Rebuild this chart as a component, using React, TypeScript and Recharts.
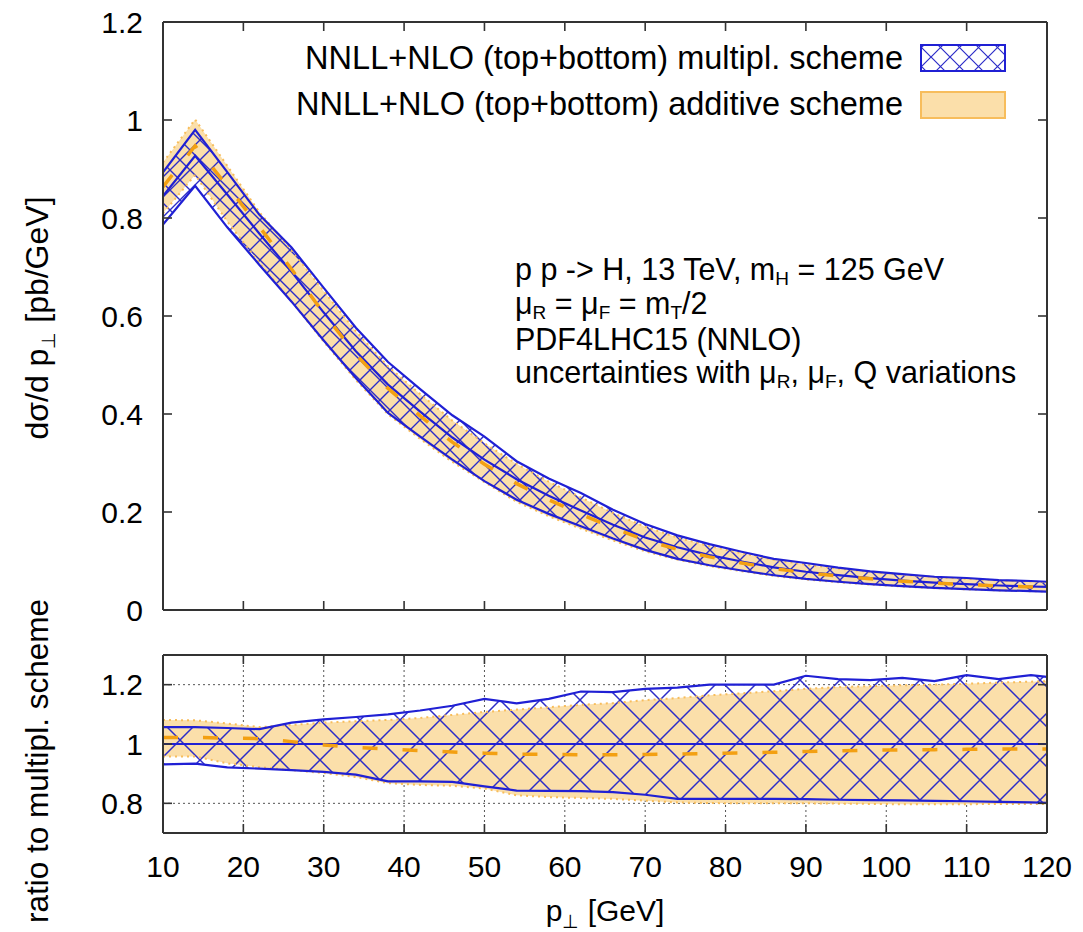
import React from "react";
import { ComposedChart, Area, Line, XAxis, YAxis, CartesianGrid } from "recharts";

// p_T grid points [GeV]
const PT = [10, 14, 18, 22, 26, 30, 34, 38, 42, 46, 50, 54, 58, 62, 66, 70, 74, 78, 82, 86, 90, 94, 98, 102, 106, 110, 114, 118, 120];

// multiplicative scheme, central value [pb/GeV]
const MULT_CENTRAL = [0.845, 0.927, 0.848, 0.768, 0.69, 0.607, 0.528, 0.46, 0.405, 0.352, 0.307, 0.267, 0.233, 0.203, 0.174, 0.148, 0.128, 0.112, 0.099, 0.087, 0.078, 0.071, 0.065, 0.06, 0.056, 0.053, 0.05, 0.048, 0.047];

// band edges as ratio to the multiplicative central value (lower panel)
const MULT_UP = [1.057, 1.057, 1.054, 1.05, 1.072, 1.083, 1.091, 1.1, 1.113, 1.129, 1.152, 1.137, 1.152, 1.177, 1.175, 1.186, 1.19, 1.2, 1.2, 1.2, 1.23, 1.219, 1.215, 1.223, 1.212, 1.232, 1.219, 1.232, 1.226];
const MULT_LO = [0.931, 0.934, 0.921, 0.917, 0.912, 0.906, 0.897, 0.874, 0.874, 0.872, 0.857, 0.843, 0.842, 0.841, 0.838, 0.829, 0.815, 0.815, 0.815, 0.815, 0.814, 0.812, 0.811, 0.81, 0.808, 0.807, 0.805, 0.803, 0.802];
const ADD_CEN = [1.022, 1.022, 1.02, 1.018, 1.008, 0.997, 0.988, 0.983, 0.978, 0.973, 0.969, 0.966, 0.965, 0.964, 0.964, 0.965, 0.966, 0.968, 0.97, 0.972, 0.975, 0.977, 0.979, 0.98, 0.981, 0.982, 0.983, 0.983, 0.983];
const ADD_UP = [1.081, 1.08, 1.069, 1.057, 1.064, 1.072, 1.077, 1.081, 1.088, 1.098, 1.108, 1.116, 1.124, 1.132, 1.138, 1.148, 1.155, 1.164, 1.171, 1.178, 1.186, 1.192, 1.195, 1.198, 1.2, 1.203, 1.207, 1.21, 1.212];
const ADD_LO = [0.958, 0.958, 0.935, 0.922, 0.912, 0.902, 0.889, 0.868, 0.862, 0.859, 0.85, 0.827, 0.821, 0.818, 0.815, 0.809, 0.803, 0.801, 0.8, 0.8, 0.8, 0.799, 0.798, 0.797, 0.797, 0.797, 0.798, 0.798, 0.798];

const X_TICKS = [10, 20, 30, 40, 50, 60, 70, 80, 90, 100, 110, 120];
const TOP_TICKS = [0, 0.2, 0.4, 0.6, 0.8, 1, 1.2];
const RATIO_TICKS = [0.8, 1, 1.2];

const rows = PT.map((pt, i) => {
  const c = MULT_CENTRAL[i];
  return {
    pt,
    cen: c,
    multUp: c * MULT_UP[i],
    multLo: c * MULT_LO[i],
    multBand: [c * MULT_LO[i], c * MULT_UP[i]],
    addCen: c * ADD_CEN[i],
    addUp: c * ADD_UP[i],
    addLo: c * ADD_LO[i],
    addBand: [c * ADD_LO[i], c * ADD_UP[i]],
    rOne: c / c,
    rMultUp: MULT_UP[i],
    rMultLo: MULT_LO[i],
    rMultBand: [MULT_LO[i], MULT_UP[i]],
    rAddCen: ADD_CEN[i],
    rAddUp: ADD_UP[i],
    rAddLo: ADD_LO[i],
    rAddBand: [ADD_LO[i], ADD_UP[i]],
  };
});

const BLUE = "#2020d4";
const HATCH = "#2c2cc8";
const ORANGE = "#f3a012";
const ORANGE_EDGE = "#f7bd5c";
const PEACH = "#fbdfaa";
const FONT = "'Liberation Sans', Arial, Helvetica, sans-serif";
const INK = "#000";

const tickFont = { fontSize: 30, fill: INK, fontFamily: FONT };
const frameLine = { stroke: "#333", strokeWidth: 2 };
const tickLine = { stroke: "#333", strokeWidth: 1.6 };
// tick lines only, no labels
const noLabel = () => <g />;

function frameAxes(yDomain: number[], yTicks: number[], withXLabels: boolean) {
  const xCommon = {
    dataKey: "pt",
    type: "number" as const,
    domain: [10, 120],
    ticks: X_TICKS,
    allowDataOverflow: true,
    interval: 0 as const,
  };
  const yCommon = {
    type: "number" as const,
    domain: yDomain,
    ticks: yTicks,
    allowDataOverflow: true,
    interval: 0 as const,
  };
  return [
    <XAxis key="xb" xAxisId="b" {...xCommon} orientation="bottom" mirror tick={noLabel} tickSize={9} axisLine={frameLine} tickLine={tickLine} />,
    <XAxis key="xt" xAxisId="t" {...xCommon} orientation="top" mirror tick={noLabel} tickSize={9} axisLine={frameLine} tickLine={tickLine} />,
    withXLabels ? (
      <XAxis key="xl" xAxisId="l" {...xCommon} orientation="bottom" height={60} axisLine={false} tickLine={false} tickSize={0} tickMargin={23} tick={tickFont} />
    ) : null,
    <YAxis key="yl" yAxisId="l" {...yCommon} width={60} axisLine={false} tickLine={false} tickSize={0} tickMargin={20} tick={tickFont} />,
    <YAxis key="ym" yAxisId="m" {...yCommon} mirror tick={noLabel} tickSize={9} axisLine={frameLine} tickLine={tickLine} />,
    <YAxis key="yr" yAxisId="r" {...yCommon} orientation="right" mirror tick={noLabel} tickSize={9} axisLine={frameLine} tickLine={tickLine} />,
  ];
}

function Hatch({ id, size, width }: { id: string; size: number; width: number }) {
  return (
    <pattern id={id} patternUnits="userSpaceOnUse" width={size} height={size}>
      <path d={`M0,0 L${size},${size} M${size},0 L0,${size}`} stroke={HATCH} strokeWidth={width} />
    </pattern>
  );
}

function TopPanel() {
  const ax = { xAxisId: "b", yAxisId: "l", isAnimationActive: false, dot: false, activeDot: false, type: "linear" as const };
  return (
    <ComposedChart width={1083} height={640} data={rows} margin={{ top: 22, right: 36, bottom: 30, left: 103 }}>
      <defs>
        <Hatch id="hatchTop" size={20} width={1.4} />
      </defs>
      {frameAxes([0, 1.2], TOP_TICKS, false)}
      <Area {...ax} dataKey="addBand" fill={PEACH} fillOpacity={1} stroke="none" />
      <Area {...ax} dataKey="multBand" fill="url(#hatchTop)" fillOpacity={1} stroke="none" />
      <Line {...ax} dataKey="addUp" stroke={ORANGE_EDGE} strokeWidth={2} strokeDasharray="2 4" />
      <Line {...ax} dataKey="addLo" stroke={ORANGE_EDGE} strokeWidth={2} strokeDasharray="2 4" />
      <Line {...ax} dataKey="multUp" stroke={BLUE} strokeWidth={2.2} />
      <Line {...ax} dataKey="multLo" stroke={BLUE} strokeWidth={2.2} />
      <Line {...ax} dataKey="cen" stroke={BLUE} strokeWidth={2.2} />
      <Line {...ax} dataKey="addCen" stroke={ORANGE} strokeWidth={3.5} strokeDasharray="15 25" />
    </ComposedChart>
  );
}

function RatioPanel() {
  const ax = { xAxisId: "b", yAxisId: "l", isAnimationActive: false, dot: false, activeDot: false, type: "linear" as const };
  return (
    <ComposedChart width={1083} height={292} data={rows} margin={{ top: 15, right: 36, bottom: 39, left: 103 }}>
      <defs>
        <Hatch id="hatchRatio" size={40} width={1.5} />
      </defs>
      <CartesianGrid xAxisId="l" yAxisId="l" stroke="#555" strokeWidth={1} strokeDasharray="2 3" />
      {frameAxes([0.7, 1.3], RATIO_TICKS, true)}
      <Area {...ax} dataKey="rAddBand" fill={PEACH} fillOpacity={1} stroke="none" />
      <Area {...ax} dataKey="rMultBand" fill="url(#hatchRatio)" fillOpacity={1} stroke="none" />
      <Line {...ax} dataKey="rAddUp" stroke={ORANGE_EDGE} strokeWidth={2} strokeDasharray="2 4" />
      <Line {...ax} dataKey="rAddLo" stroke={ORANGE_EDGE} strokeWidth={2} strokeDasharray="2 4" />
      <Line {...ax} dataKey="rMultUp" stroke={BLUE} strokeWidth={2.2} />
      <Line {...ax} dataKey="rMultLo" stroke={BLUE} strokeWidth={2.2} />
      <Line {...ax} dataKey="rOne" stroke={BLUE} strokeWidth={2.2} />
      <Line {...ax} dataKey="rAddCen" stroke={ORANGE} strokeWidth={3.5} strokeDasharray="15 25" />
    </ComposedChart>
  );
}

function Overlay() {
  const sub = { fontSize: 19 };
  return (
    <svg width={1083} height={932} style={{ position: "absolute", left: 0, top: 0, pointerEvents: "none" }} fontFamily={FONT} fill={INK}>
      <defs>
        <Hatch id="hatchLegend" size={19} width={1.2} />
      </defs>

      {/* legend */}
      <text x={903} y={69} fontSize={32.5} textAnchor="end">NNLL+NLO (top+bottom) multipl. scheme</text>
      <rect x={921} y={45} width={84} height={26} fill="url(#hatchLegend)" stroke={BLUE} strokeWidth={2} />
      <text x={903} y={115} fontSize={32.5} textAnchor="end">NNLL+NLO (top+bottom) additive scheme</text>
      <rect x={921} y={92} width={84} height={26} fill={PEACH} stroke={ORANGE_EDGE} strokeWidth={2} />

      {/* process info */}
      <g fontSize={30.5}>
        <text x={515} y={280}>
          {"p p -> H, 13 TeV, m"}
          <tspan {...sub} dy={5}>H</tspan>
          <tspan dy={-5}>{" = 125 GeV"}</tspan>
        </text>
        <text x={515} y={314}>
          {"\u03bc"}
          <tspan {...sub} dy={5}>R</tspan>
          <tspan dy={-5}>{" = \u03bc"}</tspan>
          <tspan {...sub} dy={5}>F</tspan>
          <tspan dy={-5}>{" = m"}</tspan>
          <tspan {...sub} dy={5}>T</tspan>
          <tspan dy={-5}>/2</tspan>
        </text>
        <text x={515} y={350}>PDF4LHC15 (NNLO)</text>
        <text x={515} y={383}>
          {"uncertainties with \u03bc"}
          <tspan {...sub} dy={5}>R</tspan>
          <tspan dy={-5}>{", \u03bc"}</tspan>
          <tspan {...sub} dy={5}>F</tspan>
          <tspan dy={-5}>, Q variations</tspan>
        </text>
      </g>

      {/* axis titles */}
      <text x={48} y={318} fontSize={32} textAnchor="middle" transform="rotate(-90 48 318)">
        {"d\u03c3/d p"}
        <tspan {...sub} dy={7}>{"\u22a5"}</tspan>
        <tspan dy={-7}>{" [pb/GeV]"}</tspan>
      </text>
      <text x={48} y={761} fontSize={31.5} textAnchor="middle" transform="rotate(-90 48 761)">
        ratio to multipl. scheme
      </text>
      <text x={605} y={921} fontSize={30} textAnchor="middle">
        p
        <tspan {...sub} dy={7}>{"\u22a5"}</tspan>
        <tspan dy={-7}>{" [GeV]"}</tspan>
      </text>
    </svg>
  );
}

export default function App() {
  return (
    <div style={{ position: "absolute", left: 0, top: 0, width: 1083, height: 932, background: "#fff" }}>
      <div style={{ position: "absolute", left: 0, top: 0 }}>
        <TopPanel />
      </div>
      <div style={{ position: "absolute", left: 0, top: 640 }}>
        <RatioPanel />
      </div>
      <Overlay />
    </div>
  );
}
